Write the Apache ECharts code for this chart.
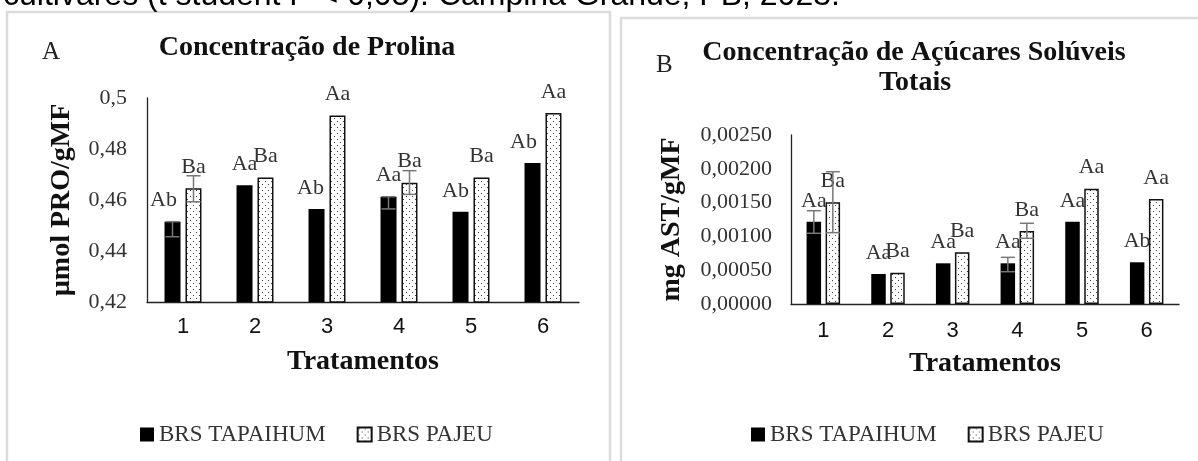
<!DOCTYPE html>
<html>
<head>
<meta charset="utf-8">
<script src="https://cdn.jsdelivr.net/npm/echarts@6/dist/echarts.min.js"></script>
<style>
html,body{margin:0;padding:0;background:#fff;}
#chart{width:1198px;height:461px;}
</style>
</head>
<body>
<div id="chart"></div>
<script>
// ---------- data ----------
const categories = ['1', '2', '3', '4', '5', '6'];
const seriesNames = ['BRS TAPAIHUM', 'BRS PAJEU'];

// Panel A - Prolina (µmol PRO/gMF)
const prolinaTapaihum = [0.4515, 0.4658, 0.4565, 0.4613, 0.4554, 0.4745];
const prolinaPajeu    = [0.4646, 0.4688, 0.4931, 0.4668, 0.4688, 0.4941];
const prolinaTapaihumLetters = ['Ab', 'Aa', 'Ab', 'Aa', 'Ab', 'Ab'];
const prolinaPajeuLetters    = ['Ba', 'Ba', 'Aa', 'Ba', 'Ba', 'Aa'];
const prolinaTapaihumErr = [[0.4456, 0.4515], null, null, [0.4565, 0.4613], null, null];
const prolinaPajeuErr    = [[0.4593, 0.4695], null, null, [0.4622, 0.4715], null, null];
const prolinaTicks = ['0,42', '0,44', '0,46', '0,48', '0,5'];

// Panel B - Açúcares solúveis totais (mg AST/gMF)
const acucarTapaihum = [0.001217, 0.000444, 0.000602, 0.000602, 0.001217, 0.000617];
const acucarPajeu    = [0.001504, 0.000464, 0.000765, 0.001080, 0.001706, 0.001553];
const acucarTapaihumLetters = ['Aa', 'Aa', 'Aa', 'Aa', 'Aa', 'Ab'];
const acucarPajeuLetters    = ['Ba', 'Ba', 'Ba', 'Ba', 'Aa', 'Aa'];
const acucarTapaihumErr = [[0.001046, 0.00138], null, null, [0.000478, 0.00069], null, null];
const acucarPajeuErr    = [[0.001055, 0.001957], null, null, [0.000972, 0.001194], null, null];
const acucarTicks = ['0,00000', '0,00050', '0,00100', '0,00150', '0,00200', '0,00250'];

// ---------- styling ----------
const SERIF = 'Liberation Serif';
const SANS = 'Liberation Sans';
const labelShiftA = [-9, 0, -6, 0, -5, -9]; // manual label nudges (style only)

function makePattern() {
  const c = document.createElement('canvas');
  c.width = 6; c.height = 6;
  const g = c.getContext('2d');
  g.fillStyle = '#fff'; g.fillRect(0, 0, 6, 6);
  g.fillStyle = '#444';
  g.fillRect(1, 1, 1, 1);
  g.fillRect(4, 4, 1, 1);
  return c;
}
const dotted = { image: makePattern(), repeat: 'repeat' };

const chart = echarts.init(document.getElementById('chart'), null, { renderer: 'canvas' });

function barSeries(name, vals, letters, axis, dark, barW, shifts, gap) {
  return {
    type: 'bar', name: name,
    xAxisIndex: axis, yAxisIndex: axis,
    barWidth: barW, barGap: gap,
    data: vals.map((v, i) => ({ value: v, label: { offset: [shifts ? shifts[i] : 0, 0] } })),
    itemStyle: dark ? { color: '#000' } : { color: dotted, borderColor: '#111', borderWidth: 1.5 },
    label: {
      show: true, position: 'top', distance: 10,
      formatter: p => letters[p.dataIndex],
      fontFamily: SERIF, fontSize: 22, color: '#333'
    },
    z: 2
  };
}

function errSeries(errs, axis, side, barW, gapPx) {
  const data = [];
  errs.forEach((e, i) => { if (e) data.push([i, e[0], e[1]]); });
  return {
    type: 'custom', xAxisIndex: axis, yAxisIndex: axis, silent: true, z: 5,
    data: data,
    renderItem: function (params, api) {
      const lo = api.coord([api.value(0), api.value(1)]);
      const hi = api.coord([api.value(0), api.value(2)]);
      const x = lo[0] + side * (barW + gapPx) / 2;
      const cap = 7;
      const st = { stroke: '#777', lineWidth: 1.5 };
      return {
        type: 'group', children: [
          { type: 'line', shape: { x1: x, y1: lo[1], x2: x, y2: hi[1] }, style: st },
          { type: 'line', shape: { x1: x - cap, y1: lo[1], x2: x + cap, y2: lo[1] }, style: st },
          { type: 'line', shape: { x1: x - cap, y1: hi[1], x2: x + cap, y2: hi[1] }, style: st }
        ]
      };
    }
  };
}

const axisLineStyle = { show: true, lineStyle: { color: '#222', width: 1.3 } };

function xAx(gridIndex, margin) {
  return {
    type: 'category', gridIndex: gridIndex, data: categories,
    axisLine: axisLineStyle, axisTick: { show: false },
    axisLabel: { fontFamily: SANS, fontSize: 22, color: '#111', margin: margin },
    name: 'Tratamentos', nameLocation: 'middle', nameGap: 46,
    nameTextStyle: { fontFamily: SERIF, fontSize: 28, fontWeight: 'bold', color: '#111' }
  };
}

const legendText = { fontFamily: SERIF, fontSize: 23, color: '#333' };
function legendOf(left) {
  return {
    left: left, top: 418, itemWidth: 14, itemHeight: 14, itemGap: 31, icon: 'rect',
    selectedMode: false, textStyle: legendText,
    data: seriesNames.map(n => ({ name: n, textStyle: legendText }))
  };
}

const option = {
  backgroundColor: '#fff',
  animation: false,
  textStyle: { fontFamily: SERIF },
  grid: [
    { left: 147, top: 98, width: 432, height: 204 },
    { left: 791, top: 135, width: 388, height: 169 }
  ],
  xAxis: [xAx(0, 14), xAx(1, 16)],
  yAxis: [
    {
      type: 'value', gridIndex: 0, min: 0.42, max: 0.5, interval: 0.02,
      axisLine: axisLineStyle, axisTick: { show: false }, splitLine: { show: false },
      axisLabel: { fontFamily: SERIF, fontSize: 22, color: '#333', margin: 20,
        formatter: (v, i) => prolinaTicks[i] },
      name: 'µmol PRO/gMF', nameLocation: 'middle', nameGap: 71, nameRotate: 90,
      nameTextStyle: { fontFamily: SERIF, fontSize: 28, fontWeight: 'bold', color: '#111' }
    },
    {
      type: 'value', gridIndex: 1, min: 0, max: 0.0025, interval: 0.0005,
      axisLine: axisLineStyle, axisTick: { show: false }, splitLine: { show: false },
      axisLabel: { fontFamily: SERIF, fontSize: 22, color: '#333', margin: 19,
        formatter: (v, i) => acucarTicks[i] },
      name: 'mg AST/gMF', nameLocation: 'middle', nameGap: 105, nameRotate: 90,
      nameTextStyle: { fontFamily: SERIF, fontSize: 28, fontWeight: 'bold', color: '#111' }
    }
  ],
  legend: [legendOf(135), legendOf(746)],
  series: [
    barSeries(seriesNames[0], prolinaTapaihum, prolinaTapaihumLetters, 0, true, 16, labelShiftA, '31%'),
    barSeries(seriesNames[1], prolinaPajeu, prolinaPajeuLetters, 0, false, 16, null, '31%'),
    barSeries(seriesNames[0], acucarTapaihum, acucarTapaihumLetters, 1, true, 14.5, null, '31%'),
    barSeries(seriesNames[1], acucarPajeu, acucarPajeuLetters, 1, false, 14.5, null, '31%'),
    errSeries(prolinaTapaihumErr, 0, -1, 16, 5),
    errSeries(prolinaPajeuErr, 0, 1, 16, 5),
    errSeries(acucarTapaihumErr, 1, -1, 14.5, 4.5),
    errSeries(acucarPajeuErr, 1, 1, 14.5, 4.5)
  ],
  graphic: [
    { type: 'rect', z: -10, shape: { x: 7, y: 12, width: 603, height: 470 },
      style: { fill: 'none', stroke: '#dcdcdc', lineWidth: 2.5 } },
    { type: 'rect', z: -10, shape: { x: 621, y: 18, width: 600, height: 470 },
      style: { fill: 'none', stroke: '#dcdcdc', lineWidth: 2.5 } },
    { type: 'text', x: 3, y: 12, style: { text: 'cultivares (t student P < 0,05). Campina Grande, PB, 2023.',
      font: '32px ' + SANS, fill: '#000', align: 'left', verticalAlign: 'bottom',
      textAlign: 'left', textVerticalAlign: 'bottom' } },
    { type: 'text', x: 42, y: 52, style: { text: 'A', font: '25px ' + SERIF, fill: '#222',
      align: 'left', verticalAlign: 'middle', textAlign: 'left', textVerticalAlign: 'middle' } },
    { type: 'text', x: 307, y: 48, style: { text: 'Concentração de Prolina', font: 'bold 28px ' + SERIF, fill: '#111',
      align: 'center', verticalAlign: 'middle', textAlign: 'center', textVerticalAlign: 'middle' } },
    { type: 'text', x: 656, y: 65, style: { text: 'B', font: '25px ' + SERIF, fill: '#222',
      align: 'left', verticalAlign: 'middle', textAlign: 'left', textVerticalAlign: 'middle' } },
    { type: 'text', x: 914, y: 53, style: { text: 'Concentração de Açúcares Solúveis', font: 'bold 28px ' + SERIF, fill: '#111',
      align: 'center', verticalAlign: 'middle', textAlign: 'center', textVerticalAlign: 'middle' } },
    { type: 'text', x: 915, y: 83, style: { text: 'Totais', font: 'bold 28px ' + SERIF, fill: '#111',
      align: 'center', verticalAlign: 'middle', textAlign: 'center', textVerticalAlign: 'middle' } }
  ]
};
chart.setOption(option);
</script>
</body>
</html>
